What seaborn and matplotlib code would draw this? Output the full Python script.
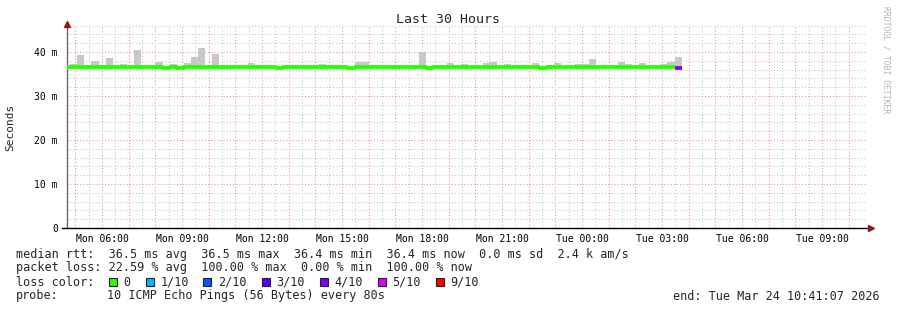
import numpy as np
import pandas as pd
import matplotlib
matplotlib.use("Agg")
import matplotlib.pyplot as plt
import seaborn as sns
from matplotlib.patches import Rectangle
from matplotlib.ticker import FixedLocator, MultipleLocator

# ---------------- data ----------------
# time axis in hours since Mon 00:00
view_start_h = 4 + 41 / 60 + 7 / 3600      # Mon 04:41:07
view_hours = 30
bin_first_start_h = 4 + 32 / 60            # first 16-minute consolidation bin
bin_len_h = 16 / 60

median_ms = [
    36.5, 36.5, 36.5, 36.5, 36.5, 36.5, 36.5, 36.5, 36.5, 36.5,
    36.5, 36.5, 36.5, 36.5, 36.3, 36.5, 36.3, 36.5, 36.5, 36.5,
    36.5, 36.5, 36.5, 36.5, 36.5, 36.5, 36.5, 36.5, 36.5, 36.5,
    36.3, 36.5, 36.5, 36.5, 36.5, 36.5, 36.5, 36.5, 36.5, 36.5,
    36.3, 36.5, 36.5, 36.5, 36.5, 36.5, 36.5, 36.5, 36.5, 36.5,
    36.5, 36.3, 36.5, 36.5, 36.5, 36.5, 36.5, 36.5, 36.5, 36.5,
    36.5, 36.5, 36.5, 36.5, 36.5, 36.5, 36.5, 36.3, 36.5, 36.5,
    36.5, 36.5, 36.5, 36.5, 36.5, 36.5, 36.5, 36.5, 36.5, 36.5,
    36.5, 36.5, 36.5, 36.5, 36.5, 36.5, 36.4,
]
nan = float("nan")
smoke_top_ms = [
    nan, 37.3, 39.3, 37.0, 38.0, 37.0, 38.6, nan, 37.3, nan,
    40.5, nan, 37.0, 37.7, nan, 37.3, nan, 37.5, 38.9, 40.9,
    nan, 39.5, nan, nan, nan, nan, 37.5, 37.0, 37.0, nan,
    nan, nan, nan, nan, nan, nan, 37.3, 37.0, nan, nan,
    nan, 37.7, 37.7, 37.0, nan, nan, nan, nan, nan, nan,
    40.0, nan, 37.0, nan, 37.5, nan, 37.3, nan, nan, 37.5,
    37.7, nan, 37.3, nan, 37.0, nan, 37.5, nan, 37.0, 37.5,
    nan, nan, 37.3, 37.3, 38.4, nan, 37.0, 37.0, 37.7, 37.3,
    nan, 37.5, nan, 37.0, 37.3, 37.7, 38.9,
]
# loss level per bin (index into loss_colors)
loss_level = [0] * 86 + [4]

loss_labels = ["0", "1/10", "2/10", "3/10", "4/10", "5/10", "9/10"]
loss_colors = ["#26ff00", "#00b8ff", "#0059ff", "#5e00ff", "#7e00ff", "#dd00ff", "#ff0000"]

x_tick_hours = [6, 9, 12, 15, 18, 21, 24, 27, 30, 33]
x_tick_labels = ["Mon 06:00", "Mon 09:00", "Mon 12:00", "Mon 15:00", "Mon 18:00",
                 "Mon 21:00", "Tue 00:00", "Tue 03:00", "Tue 06:00", "Tue 09:00"]
y_ticks = [0, 10, 20, 30, 40]
y_tick_labels = ["0", "10 m", "20 m", "30 m", "40 m"]

legend_lines = [
    "median rtt:  36.5 ms avg  36.5 ms max  36.4 ms min  36.4 ms now  0.0 ms sd  2.4 k am/s",
    "packet loss: 22.59 % avg  100.00 % max  0.00 % min  100.00 % now",
]
probe_text = "10 ICMP Echo Pings (56 Bytes) every 80s"
end_text = "end: Tue Mar 24 10:41:07 2026"
title = "Last 30 Hours"

# ---------------- style ----------------
sns.set_style("white")
plt.rcParams["font.family"] = ["DejaVu Sans Mono", "DejaVu Sans"]
MONO = "DejaVu Sans Mono"

W, H = 897, 310
fig = plt.figure(figsize=(W / 100, H / 100), dpi=100)
fig.patch.set_facecolor("white")
ax_top_px = 24.7
ax = fig.add_axes([67 / W, (H - 228) / H, 800 / W, (228 - ax_top_px) / H])
ax.set_facecolor("white")

n = len(median_ms)
bin_start = bin_first_start_h + bin_len_h * np.arange(n)

# smoke
med = np.array(median_ms)
top = np.array(smoke_top_ms)
has = ~np.isnan(top)
ax.bar(bin_start[has], top[has] - med[has], bottom=med[has], width=bin_len_h,
       align="edge", color="#c8c8c8", linewidth=0, zorder=2)

# median line, coloured by loss
runs = []
start = 0
for i in range(1, n + 1):
    if i == n or loss_level[i] != loss_level[start]:
        runs.append((start, i))
        start = i
for a, b in runs:
    xs = list(bin_start[a:b]) + [bin_start[b - 1] + bin_len_h]
    ys = list(med[a:b]) + [med[b - 1]]
    df = pd.DataFrame({"t": xs, "ms": ys})
    sns.lineplot(data=df, x="t", y="ms", ax=ax, drawstyle="steps-post",
                 color=loss_colors[loss_level[a]], linewidth=2.7,
                 solid_capstyle="butt", zorder=3, estimator=None, sort=False)

ax.set_xlim(view_start_h, view_start_h + view_hours)
ax.set_ylim(0, (228 - ax_top_px) / 4.4)

# grids
ax.xaxis.set_major_locator(FixedLocator(np.arange(5, 35, 1)))
ax.xaxis.set_minor_locator(FixedLocator(np.arange(5, 35, 1) - 0.5))
ax.yaxis.set_major_locator(FixedLocator(y_ticks))
ax.yaxis.set_minor_locator(MultipleLocator(2))
ax.set_axisbelow(True)
ax.grid(which="minor", color="#c4c4c4", linestyle=(0, (1, 2)), linewidth=0.75, zorder=0)
ax.grid(which="major", color="#ff8a8a", linestyle=(0, (1, 2)), linewidth=0.75, zorder=0)

hour_labels = []
for h in np.arange(5, 35, 1):
    hour_labels.append(x_tick_labels[x_tick_hours.index(h)] if h in x_tick_hours else "")
ax.set_xticklabels(hour_labels)
ax.set_yticklabels(y_tick_labels)
ax.tick_params(axis="x", which="major", length=2, width=0.8, color="#333333",
               pad=2.5, labelsize=7, labelcolor="black")
ax.tick_params(axis="x", which="minor", length=0)
ax.tick_params(axis="y", which="major", length=3, width=0.8, color="#333333",
               pad=3.5, labelsize=7, labelcolor="black")
ax.tick_params(axis="y", which="minor", length=0)
for lab in ax.get_xticklabels() + ax.get_yticklabels():
    lab.set_family(MONO)
ax.set_xlabel("")
ax.set_ylabel("")

for s in ["top", "right"]:
    ax.spines[s].set_visible(False)
ax.spines["left"].set_color("#666666")
ax.spines["left"].set_linewidth(1.0)
ax.spines["bottom"].set_visible(False)
ax.plot([-0.006, 1.0], [0, 0], transform=ax.transAxes, color="black", lw=1.0,
        clip_on=False, zorder=5)
ax.plot([0], [1.004], transform=ax.transAxes, marker="^", markersize=4.5,
        color="#8b1a1a", clip_on=False, zorder=6, linestyle="none")
ax.plot([1.005], [0], transform=ax.transAxes, marker=">", markersize=4.5,
        color="#8b1a1a", clip_on=False, zorder=6, linestyle="none")

# texts
def fx(px):
    return px / W

def fy(py):
    return 1 - py / H

fig.text(fx(448), fy(19.5), title, ha="center", va="center", fontsize=9.5, family=MONO)
fig.text(fx(10), fy(127), "Seconds", rotation=90, ha="center", va="center",
         fontsize=8, family=MONO)
fig.text(fx(886), fy(60), "RRDTOOL / TOBI OETIKER", rotation=270, ha="center",
         va="center", fontsize=5.8, family=MONO, color="#b4b4b4")

LS = 8.5
fig.text(fx(16), fy(254.3), legend_lines[0], ha="left", va="center", fontsize=LS, family=MONO)
fig.text(fx(16), fy(268), legend_lines[1], ha="left", va="center", fontsize=LS, family=MONO)
fig.text(fx(16), fy(282.3), "loss color:", ha="left", va="center", fontsize=LS, family=MONO)
box_left_px = [108.7, 146, 203.3, 261.7, 320, 377.7, 435.7]
for bx, lab, col in zip(box_left_px, loss_labels, loss_colors):
    fig.patches.append(Rectangle((fx(bx), fy(286.3)), 8 / W, 8 / H, transform=fig.transFigure,
                                 facecolor=col, edgecolor="#222222", linewidth=0.8))
    fig.text(fx(bx + 14.5), fy(282.3), lab, ha="left", va="center", fontsize=LS, family=MONO)
fig.text(fx(16), fy(296), "probe:", ha="left", va="center", fontsize=LS, family=MONO)
fig.text(fx(107), fy(296), probe_text, ha="left", va="center", fontsize=LS, family=MONO)
fig.text(fx(880), fy(296), end_text, ha="right", va="center", fontsize=LS, family=MONO)

fig.savefig("out.png", dpi=100, facecolor="white")
